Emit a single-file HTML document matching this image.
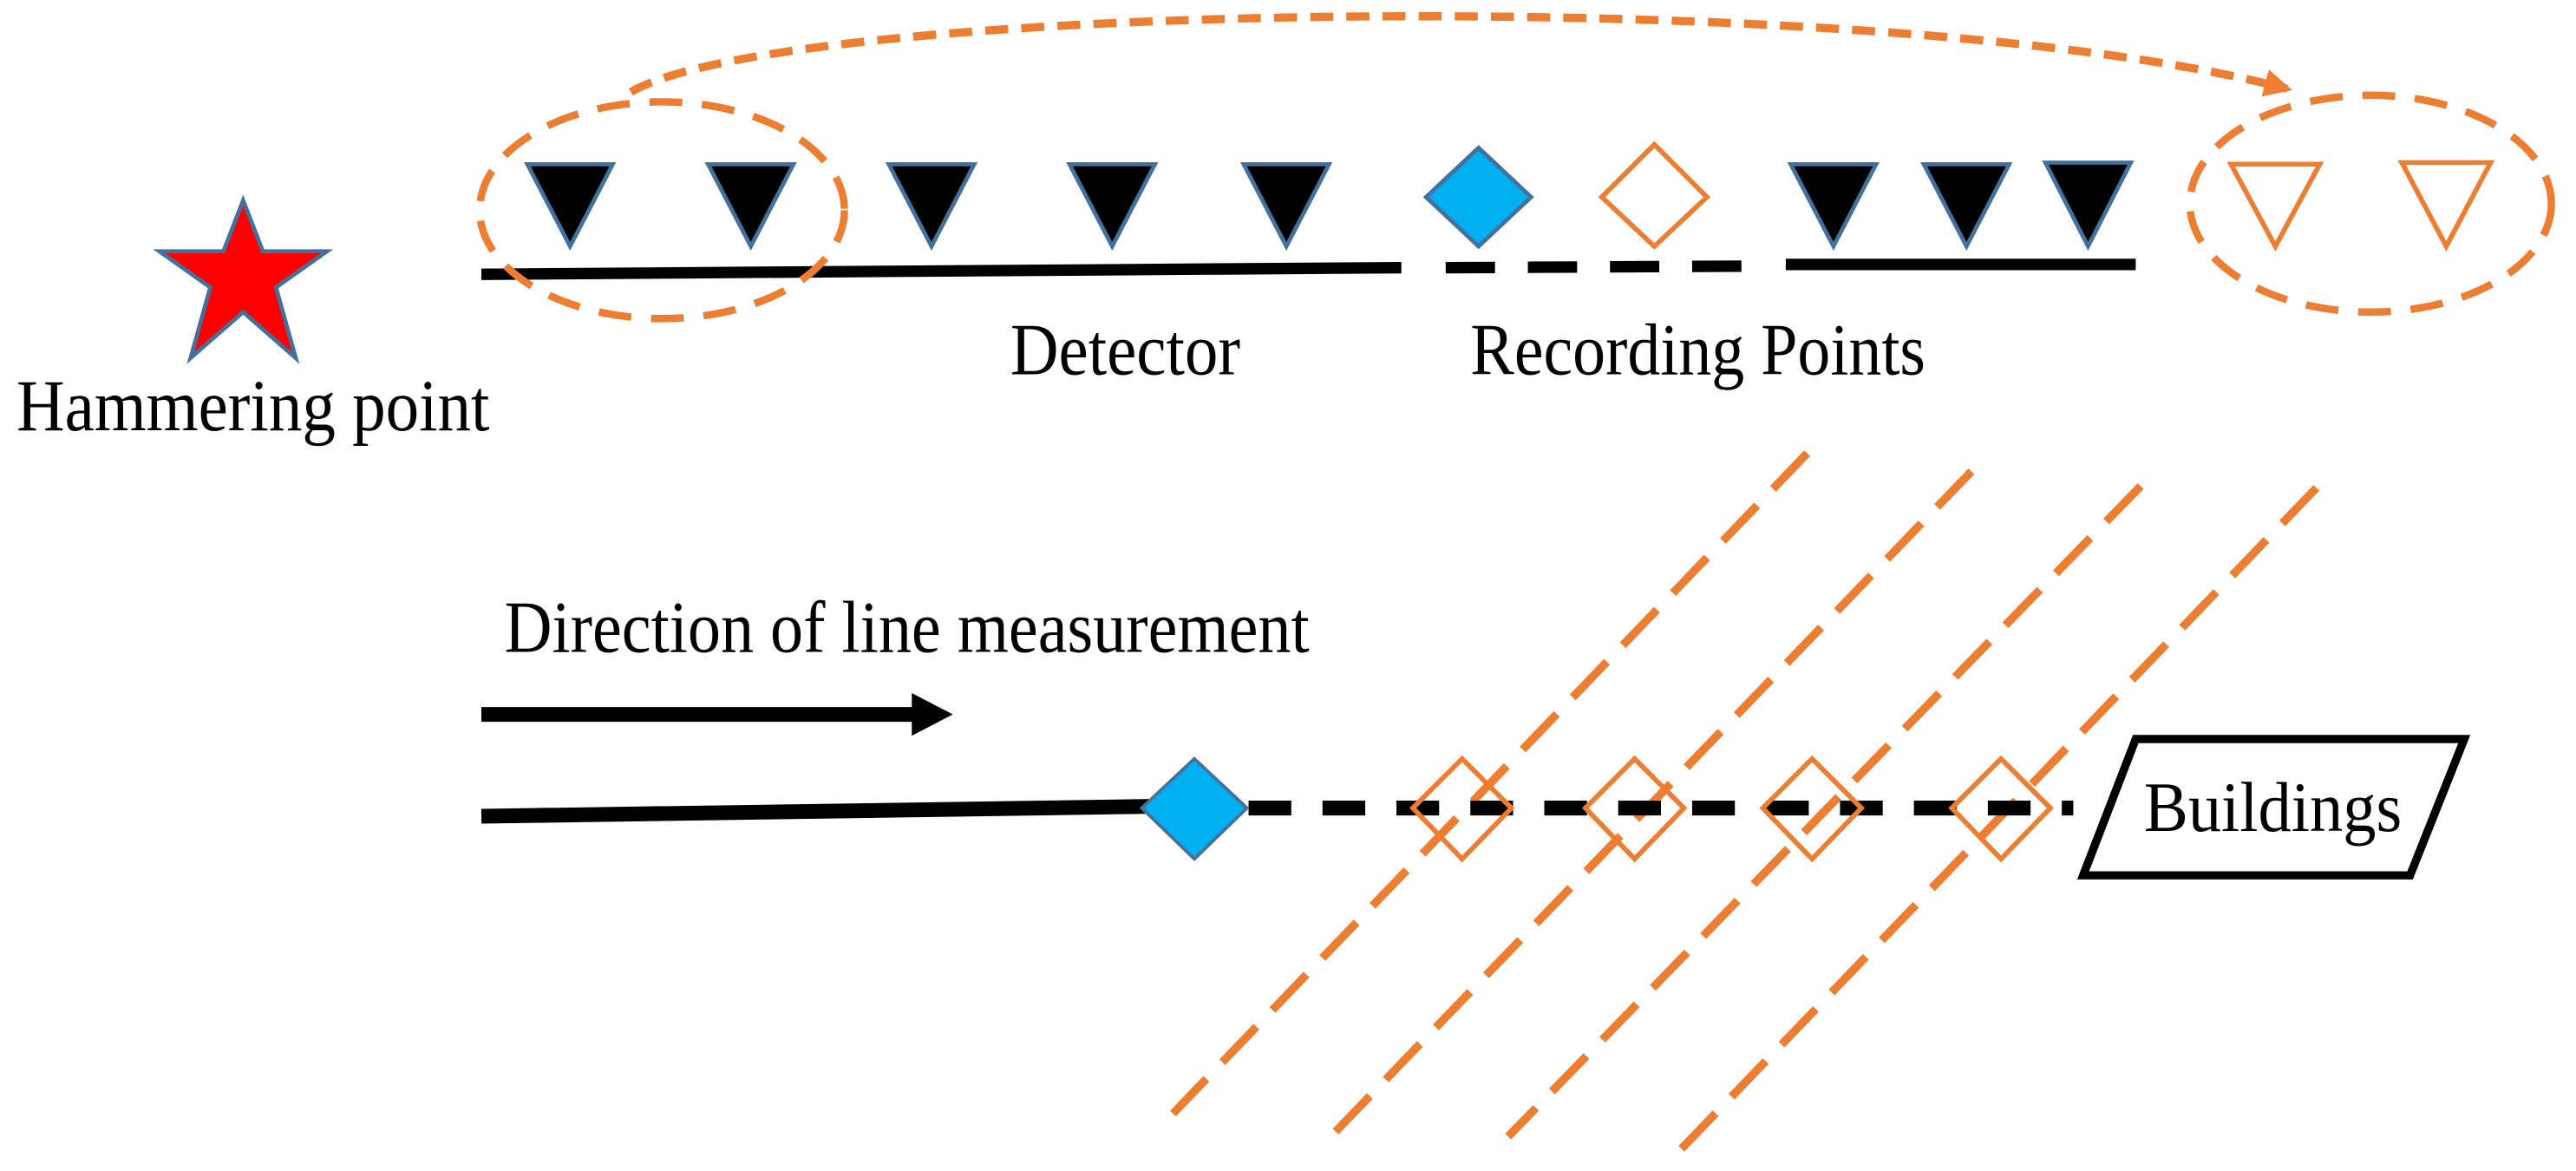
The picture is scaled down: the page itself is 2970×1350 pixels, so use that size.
<!DOCTYPE html>
<html><head><meta charset="utf-8"><style>
html,body{margin:0;padding:0;background:#fff;width:2970px;height:1350px;overflow:hidden}
svg{display:block}
text{font-family:"Liberation Serif",serif;font-size:45px;fill:#000}
</style></head><body>
<svg width="2970" height="1350" viewBox="0 0 1568 713" preserveAspectRatio="none" xmlns="http://www.w3.org/2000/svg">
<defs>
<marker id="ah" viewBox="0 0 10 10" refX="8" refY="5" markerWidth="3.4" markerHeight="3.4" orient="auto" markerUnits="strokeWidth">
<path d="M0,0 L10,5 L0,10 z" fill="#ED7D31"/></marker>
</defs>
<polygon points="148,122 160,153 199,153 168,175 180,218 148,190 116,218 128,175 97,153 136,153" fill="#FF0000" stroke="#41719C" stroke-width="2.5"/>
<text x="10" y="262" textLength="288" lengthAdjust="spacingAndGlyphs">Hammering point</text>
<path d="M293,167 L853,163" stroke="#000" stroke-width="7"/>
<path d="M880,163 L1075,162" stroke="#000" stroke-width="7" stroke-dasharray="30,20"/>
<path d="M1087,161 L1300,161" stroke="#000" stroke-width="7"/>
<g fill="#000" stroke="#41719C" stroke-width="2.5">
<polygon points="321,100 373,100 347,150"/>
<polygon points="431,100 483,100 457,150"/>
<polygon points="541,100 593,100 567,150"/>
<polygon points="651,100 703,100 677,150"/>
<polygon points="757,100 809,100 783,150"/>
<polygon points="1090,100 1142,100 1116,150"/>
<polygon points="1171,100 1223,100 1197,150"/>
<polygon points="1245,99 1297,99 1271,150"/>
</g>
<polygon points="900,90 932,120 900,150 868,120" fill="#00B0F0" stroke="#41719C" stroke-width="2.5"/>
<polygon points="1007,88 1039,120 1007,150 975,120" fill="none" stroke="#ED7D31" stroke-width="3"/>
<polygon points="1358,100 1412,100 1385,150" fill="none" stroke="#ED7D31" stroke-width="3"/>
<polygon points="1462,99 1516,99 1489,150" fill="none" stroke="#ED7D31" stroke-width="3"/>
<ellipse cx="403" cy="128" rx="111" ry="66" fill="none" stroke="#ED7D31" stroke-width="4.5" stroke-dasharray="20,12"/>
<ellipse cx="1443" cy="124" rx="110" ry="66" fill="none" stroke="#ED7D31" stroke-width="4.5" stroke-dasharray="20,12"/>
<path d="M384,56 C480,0 1150,-10 1392,54" fill="none" stroke="#ED7D31" stroke-width="5" stroke-dasharray="14,8" marker-end="url(#ah)"/>
<text x="615" y="228" textLength="140" lengthAdjust="spacingAndGlyphs">Detector</text>
<text x="895" y="228" textLength="277" lengthAdjust="spacingAndGlyphs">Recording Points</text>
<text x="307" y="397" textLength="490" lengthAdjust="spacingAndGlyphs">Direction of line measurement</text>
<path d="M293,435 L558,435" stroke="#000" stroke-width="9"/>
<polygon points="555,422 580,435 555,448" fill="#000"/>
<g stroke="#ED7D31" stroke-width="5" stroke-dasharray="30,14" fill="none">
<path d="M1100,276 L714,678"/>
<path d="M1200,287 L812,690"/>
<path d="M1303,296 L918,692"/>
<path d="M1410,297 L1023,700"/>
</g>
<path d="M293,497 L700,491" stroke="#000" stroke-width="9"/>
<path d="M760,492 L1262,492" stroke="#000" stroke-width="9" stroke-dasharray="26,19"/>
<polygon points="727,462 759,492 727,523 695,492" fill="#00B0F0" stroke="#41719C" stroke-width="2"/>
<g fill="none" stroke="#ED7D31" stroke-width="3">
<polygon points="890,462 920,492 890,523 860,492"/>
<polygon points="995,462 1025,492 995,523 965,492"/>
<polygon points="1103,462 1133,492 1103,523 1073,492"/>
<polygon points="1218,462 1248,492 1218,523 1188,492"/>
</g>
<polygon points="1300,450 1500,450 1467,533 1268,533" fill="#fff" stroke="#000" stroke-width="5"/>
<text x="1305" y="506" textLength="157" lengthAdjust="spacingAndGlyphs" style="font-size:43px">Buildings</text>
</svg>
</body></html>
